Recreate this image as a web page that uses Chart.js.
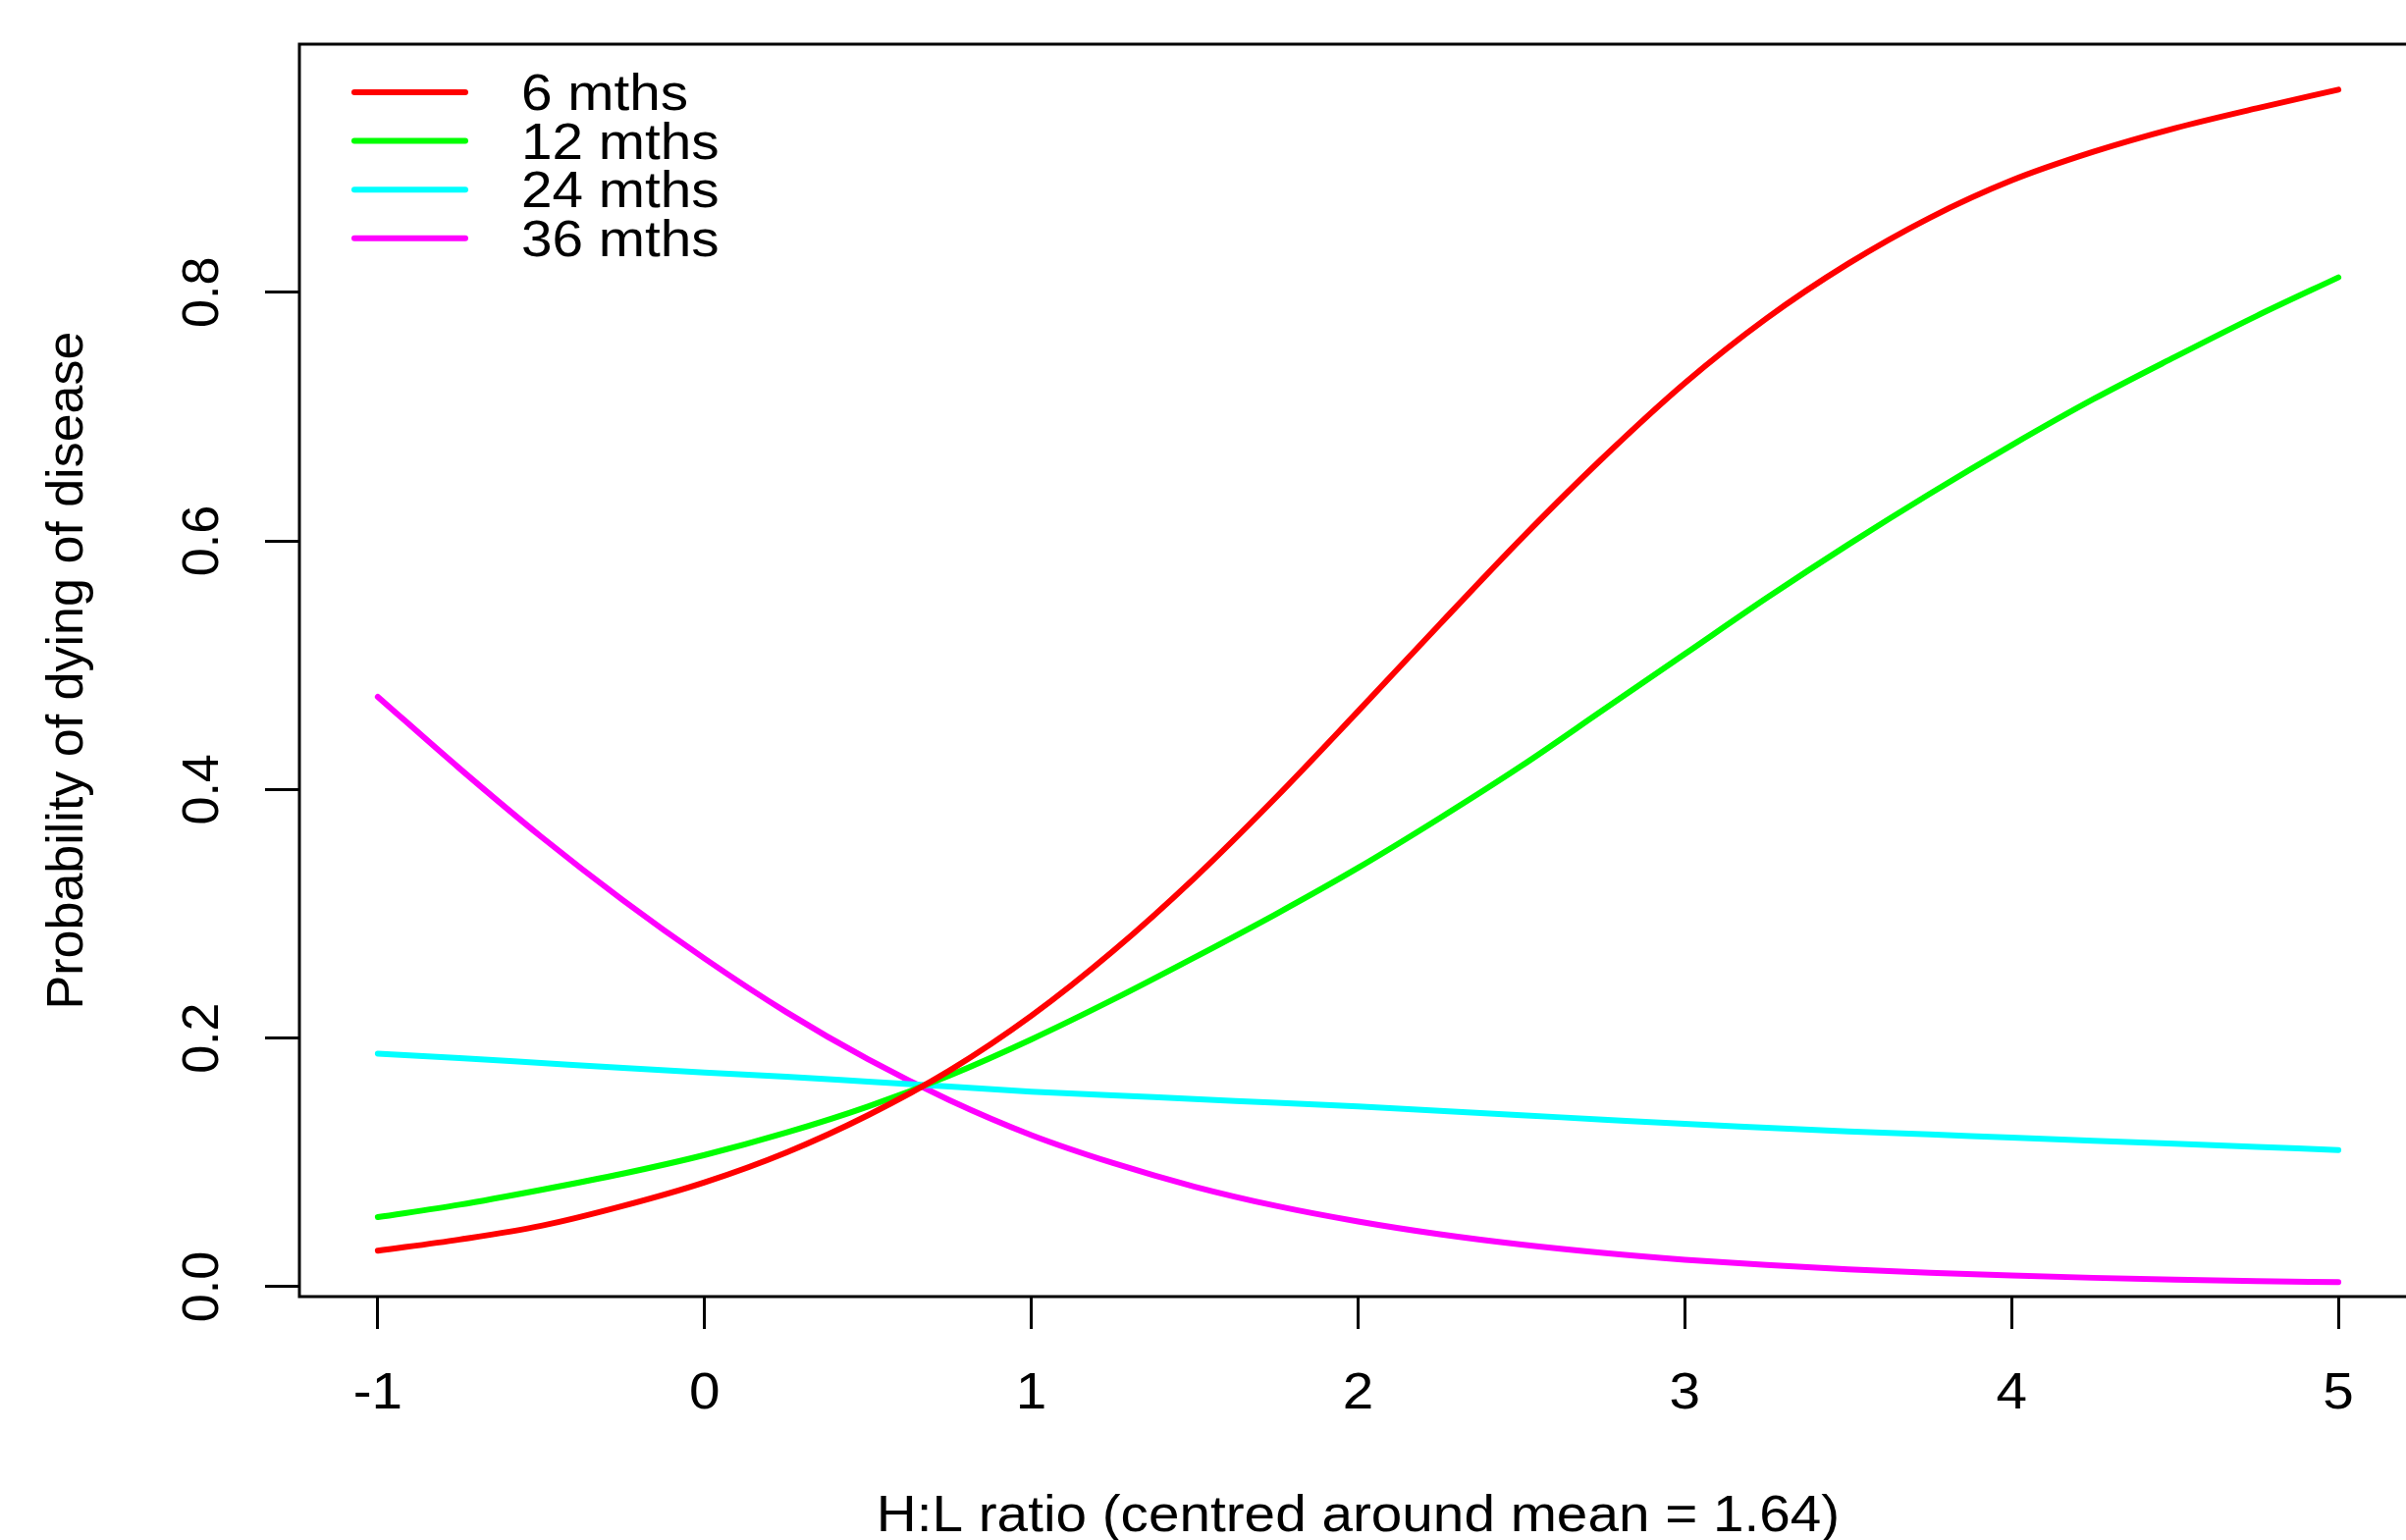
<!DOCTYPE html>
<html>
<head>
<meta charset="utf-8">
<script src="https://cdn.jsdelivr.net/npm/chart.js@4.4.0/dist/chart.umd.min.js"></script>
<style>
html, body { margin: 0; padding: 0; background: #fff; overflow: hidden; }
#wrap { width: 2520px; height: 1569px; }
</style>
</head>
<body>
<div id="wrap"><canvas id="chart" width="2520" height="1569"></canvas></div>
<script>
// values
const hlRatio = [-1, -0.75, -0.5, -0.25, 0, 0.25, 0.5, 0.75, 1, 1.25, 1.5, 1.75, 2,
                 2.25, 2.5, 2.75, 3, 3.25, 3.5, 3.75, 4, 4.25, 4.5, 4.75, 5];
const mths6  = [0.029, 0.038, 0.049, 0.065, 0.084, 0.108, 0.138, 0.174, 0.218, 0.270, 0.329, 0.394, 0.463,
                0.533, 0.602, 0.667, 0.727, 0.779, 0.823, 0.860, 0.890, 0.913, 0.932, 0.948, 0.963];
const mths12 = [0.056, 0.066, 0.078, 0.091, 0.106, 0.124, 0.145, 0.170, 0.199, 0.231, 0.265, 0.300, 0.337,
                0.377, 0.419, 0.464, 0.509, 0.554, 0.597, 0.638, 0.677, 0.714, 0.748, 0.781, 0.812];
const mths24 = [0.1875, 0.184, 0.180, 0.176, 0.1724, 0.169, 0.165, 0.161, 0.157, 0.154, 0.151, 0.148, 0.145,
                0.1415, 0.138, 0.1345, 0.131, 0.128, 0.125, 0.1225, 0.120, 0.1175, 0.115, 0.1125, 0.110];
const mths36 = [0.4746, 0.417, 0.362, 0.311, 0.264, 0.221, 0.183, 0.150, 0.122, 0.0995, 0.0805, 0.065, 0.0525,
                0.0422, 0.0339, 0.0272, 0.0218, 0.0175, 0.0140, 0.0112, 0.0090, 0.0072, 0.0058, 0.0046, 0.0037];

const seriesNames = ['6 mths', '12 mths', '24 mths', '36 mths'];
const seriesColors = ['#ff0000', '#00ff00', '#00ffff', '#ff00ff'];

const xTicks = [-1, 0, 1, 2, 3, 4, 5];
const yTicks = [0, 0.2, 0.4, 0.6, 0.8];
const xTitle = 'H:L ratio (centred around mean = 1.64)';
const yTitle = 'Probability of dying of disease';

const FONT = "'Liberation Sans', Arial, sans-serif";
const WIDE = 1.09; // the original's text runs a bit wider than it is tall

function toPoints(ys) {
    return hlRatio.map((x, i) => ({ x: x, y: ys[i] }));
}

function wideText(c, text, x, y, align) {
    c.save();
    c.translate(x, y);
    c.scale(WIDE, 1);
    c.textAlign = align;
    c.fillText(text, 0, 0);
    c.restore();
}

// plot frame like R's box()
const boxPlugin = {
    id: 'box',
    afterDatasetsDraw(chart) {
        const a = chart.chartArea;
        const c = chart.ctx;
        c.save();
        c.strokeStyle = '#000';
        c.lineWidth = 3;
        c.strokeRect(a.left, a.top, a.right - a.left, a.bottom - a.top);
        c.restore();
    }
};

// x tick labels + x title, drawn a little stretched
const xLabelPlugin = {
    id: 'xlabels',
    afterDraw(chart) {
        const sx = chart.scales.x;
        const a = chart.chartArea;
        const c = chart.ctx;
        c.save();
        c.fillStyle = '#000';
        c.font = '52px ' + FONT;
        c.textBaseline = 'alphabetic';
        sx.ticks.forEach(t => {
            wideText(c, String(t.value), sx.getPixelForValue(t.value), a.bottom + 114, 'center');
        });
        wideText(c, xTitle, (a.left + a.right) / 2, a.bottom + 239, 'center');
        c.restore();
    }
};

// legend without a box, top-left inside the plot
const legendPlugin = {
    id: 'rlegend',
    afterDraw(chart) {
        const a = chart.chartArea;
        const c = chart.ctx;
        c.save();
        c.font = '52px ' + FONT;
        c.textBaseline = 'alphabetic';
        c.lineCap = 'round';
        c.lineWidth = 6;
        chart.data.datasets.forEach((ds, i) => {
            const y = a.top + 49 + i * 49.6;
            c.strokeStyle = ds.borderColor;
            c.beginPath();
            c.moveTo(a.left + 56, y);
            c.lineTo(a.left + 169, y);
            c.stroke();
            c.fillStyle = '#000';
            wideText(c, ds.label, a.left + 226, y + 18, 'left');
        });
        c.restore();
    }
};

const ctx = document.getElementById('chart');

new Chart(ctx, {
    type: 'line',
    data: {
        datasets: [
            { label: seriesNames[0], data: toPoints(mths6),  borderColor: seriesColors[0] },
            { label: seriesNames[1], data: toPoints(mths12), borderColor: seriesColors[1] },
            { label: seriesNames[2], data: toPoints(mths24), borderColor: seriesColors[2] },
            { label: seriesNames[3], data: toPoints(mths36), borderColor: seriesColors[3] }
        ]
    },
    options: {
        responsive: false,
        animation: false,
        layout: { padding: { top: 45, right: 58, left: 0, bottom: 0 } },
        plugins: {
            legend: { display: false },
            tooltip: { enabled: false }
        },
        elements: {
            point: { radius: 0 },
            line: {
                borderWidth: 6,
                borderCapStyle: 'round',
                borderJoinStyle: 'round',
                cubicInterpolationMode: 'monotone',
                fill: false
            }
        },
        scales: {
            x: {
                type: 'linear',
                min: -1.24,
                max: 5.24,
                afterBuildTicks: s => { s.ticks = xTicks.map(v => ({ value: v })); },
                afterFit: s => {
                    s.height = 248;
                    s.paddingLeft = 0;
                    s.paddingRight = 0;
                },
                border: { display: false },
                grid: { drawOnChartArea: false, drawTicks: true, tickLength: 33, tickWidth: 3, tickColor: '#000' },
                ticks: { display: false, autoSkip: false },
                title: { display: false }
            },
            y: {
                type: 'linear',
                min: -0.0079,
                max: 0.9996,
                afterBuildTicks: s => { s.ticks = yTicks.map(v => ({ value: v })); },
                afterFit: s => {
                    s.width = 305;
                    s.paddingTop = 0;
                    s.paddingBottom = 0;
                },
                border: { display: false },
                grid: { drawOnChartArea: false, drawTicks: true, tickLength: 35, tickWidth: 3, tickColor: '#000' },
                ticks: {
                    color: '#000',
                    padding: 26,
                    minRotation: 90,
                    maxRotation: 90,
                    crossAlign: 'center',
                    autoSkip: false,
                    font: { family: FONT, size: 52 },
                    callback: v => v.toFixed(1)
                },
                title: {
                    display: true,
                    text: yTitle,
                    color: '#000',
                    font: { family: FONT, size: 52, lineHeight: 1 },
                    padding: { top: 44, bottom: 0 }
                }
            }
        }
    },
    plugins: [boxPlugin, xLabelPlugin, legendPlugin]
});
</script>
</body>
</html>
